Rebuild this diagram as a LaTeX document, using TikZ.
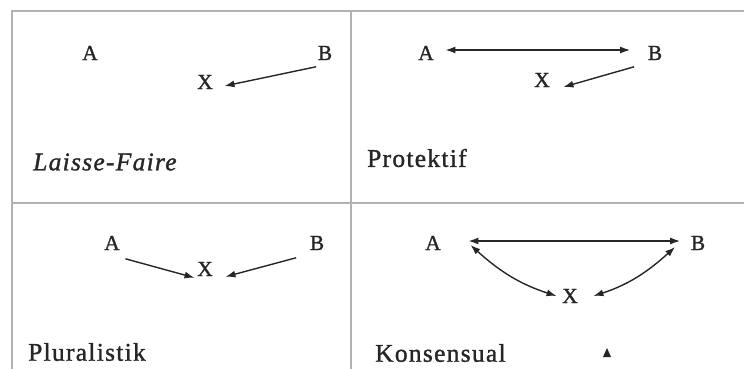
\documentclass[tikz,border=0pt]{standalone}
\usepackage{fontspec}
\setmainfont[FakeBold=1.2]{Liberation Serif}
\newfontfamily\namefont[LetterSpace=5, FakeBold=1.2]{Liberation Serif}
\usepackage{tikz}
\usetikzlibrary{arrows.meta, positioning, calc}

\begin{document}
\begin{tikzpicture}[x=1pt, y=-1pt]

% ---- Styles -----------------------------------------------------------------
\tikzset{
  frame/.style={draw=gray!60, line width=1.8pt},
  lbl/.style={font=\fontsize{21.5}{23}\selectfont, text=black!85, inner sep=4.5pt},
  typename/.style={font=\namefont\fontsize{25.5}{28}\selectfont, text=black!85,
               anchor=west, inner sep=0pt},
  arr/.style={draw=black!85, line width=1.4pt, -{Latex[length=10pt,width=7pt]}},
  darr/.style={draw=black!85, line width=1.4pt,
               {Latex[length=10pt,width=7pt]}-{Latex[length=10pt,width=7pt]}},
}

\useasboundingbox (0,0) rectangle (744,369);

% ---- Grid -------------------------------------------------------------------
\draw[frame] (12,369) -- (12,11) -- (744,11);
\draw[frame] (351,11) -- (351,369);
\draw[frame] (12,203) -- (744,203);

% ---- Laisse-Faire -----------------------------------------------------------
\node[lbl] (A1) at (90,53)  {A};
\node[lbl] (B1) at (325,53) {B};
\node[lbl] (X1) at (205,82) {X};
\draw[arr] ([shift={(3,2)}]B1.south west) -- ([shift={(7,4)}]X1.east);
\node[typename] (N1) at (33,162) {\itshape Laisse-Faire};

% ---- Protektif --------------------------------------------------------------
\node[lbl] (A2) at (426,53) {A};
\node[lbl] (B2) at (655,53) {B};
\node[lbl] (X2) at (542,80) {X};
\draw[darr] ([shift={(7,-3)}]A2.east) -- ([shift={(-13,-3)}]B2.west);
\draw[arr] ([shift={(-9,2)}]B2.south west) -- ([shift={(9,7)}]X2.east);
\node[typename] (N2) at (367,158) {Protektif};

% ---- Pluralistik ------------------------------------------------------------
\node[lbl] (A3) at (112,243) {A};
\node[lbl] (B3) at (317,243) {B};
\node[lbl] (X3) at (205,269) {X};
\draw[arr] ([shift={(1,4)}]A3.south east) -- ([shift={(2,-3)}]X3.south west);
\draw[arr] ([shift={(-9,3)}]B3.south west) -- ([shift={(8,-4)}]X3.south east);
\node[typename] (N3) at (28,352) {Pluralistik};

% ---- Konsensual -------------------------------------------------------------
\node[lbl] (A4) at (433,243) {A};
\node[lbl] (B4) at (698,243) {B};
\node[lbl] (X4) at (570,296) {X};
\draw[darr] ([shift={(23,-2)}]A4.east) -- ([shift={(-6,-2)}]B4.west);
\draw[darr] ([shift={(25,2)}]A4.east) to[out=-42, in=162] ([shift={(-1,0)}]X4.west);
\draw[darr] ([shift={(-11,4)}]B4.west) to[out=-138, in=18] ([shift={(11,0)}]X4.east);
\node[typename] (N4) at (375,353) {Konsensual};
\fill[black!85] (603,357) -- (611,357) -- (607,348) -- cycle;

\end{tikzpicture}
\end{document}
